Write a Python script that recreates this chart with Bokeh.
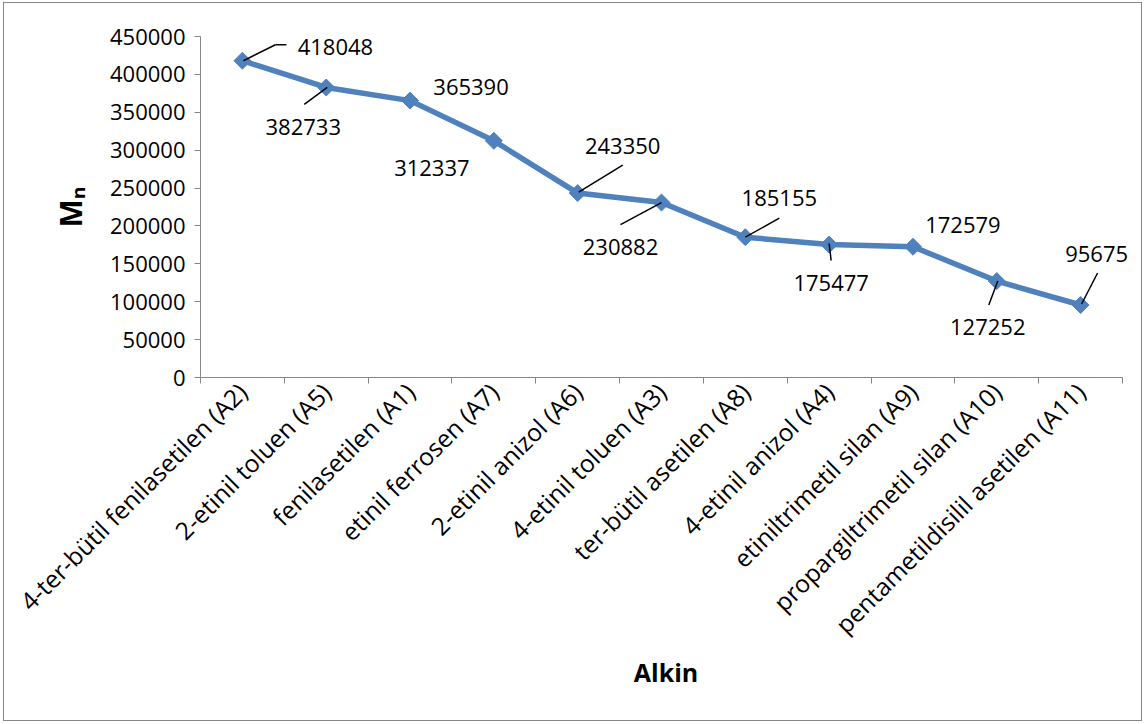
import math
from bokeh.plotting import figure
from bokeh.models import FixedTicker, Range1d, ColumnDataSource, BasicTickFormatter, LabelSet
from bokeh.core.properties import value
from bokeh.embed import file_html
from bokeh.resources import INLINE

categories = [
    "4-ter-bütil fenilasetilen (A2)",
    "2-etinil toluen (A5)",
    "fenilasetilen (A1)",
    "etinil ferrosen (A7)",
    "2-etinil anizol (A6)",
    "4-etinil toluen (A3)",
    "ter-bütil asetilen (A8)",
    "4-etinil anizol (A4)",
    "etiniltrimetil silan (A9)",
    "propargiltrimetil silan (A10)",
    "pentametildisilil asetilen (A11)",
]
mn_values = [418048, 382733, 365390, 312337, 243350, 230882, 185155, 175477, 172579, 127252, 95675]
y_ticks = [0, 50000, 100000, 150000, 200000, 250000, 300000, 350000, 400000, 450000]

# label placement (screen pixels, y downward) relative to each point
label_dx = [93, -23, 61, -62, 45, -41, 34, 2, 50, -9, 16]
label_dy = [-14, 40, -14, 27, -47, 44, -39, 38, -22, 46, -51]
# leader lines: (index, start dx, start dy, end dx, end dy) in pixels
leaders = [
    (0, 1, 0, 33, -16), (0, 33, -16, 44, -16),
    (1, 1, 0, -22, 17),
    (4, 1, -1, 45, -28),
    (5, 0, 0, -41, 22),
    (6, 0, 0, 34, -19),
    (7, 0, -1, 2, 16),
    (9, 1, 0, -8, 24),
    (10, 1, -1, 17, -32),
]

AXIS_W, EXTRA, FH = 922, 9, 341
YMAX = 450000
n = len(categories)
xs = list(range(n))
px_x = AXIS_W / n
px_y = FH / YMAX

p = figure(x_range=Range1d(-0.5, n - 0.5 + EXTRA / px_x), y_range=Range1d(0, YMAX),
           frame_width=AXIS_W + EXTRA, frame_height=FH,
           min_border_left=196, min_border_right=19 - EXTRA, min_border_top=33, min_border_bottom=343,
           output_backend="svg", toolbar_location=None)
p.styles = {"border": "1px solid #868686", "margin-left": "3px", "margin-top": "2px"}
p.outline_line_color = None
p.xgrid.visible = False
p.ygrid.visible = False
p.background_fill_color = "white"

FONT = "Open Sans"
AX = "#868686"

xa = p.xaxis[0]
xa.bounds = (-0.5, n - 0.5)
xa.ticker = FixedTicker(ticks=xs, minor_ticks=[i - 0.5 for i in range(n + 1)])
xa.major_label_overrides = {i: c for i, c in enumerate(categories)}
xa.major_label_orientation = math.pi / 4
xa.major_label_text_font = FONT
xa.major_label_text_font_size = "24.5px"
xa.major_label_text_color = "black"
xa.major_tick_in = 0
xa.major_tick_out = 0
xa.minor_tick_in = 0
xa.minor_tick_out = 6
xa.minor_tick_line_color = AX
xa.axis_line_color = AX
xa.major_label_standoff = 4
xa.axis_label = "Alkin"
xa.axis_label_text_font = FONT
xa.axis_label_text_font_style = "bold"
xa.axis_label_text_font_size = "25px"
xa.axis_label_text_color = "black"
xa.axis_label_standoff = 0

ya = p.yaxis[0]
ya.ticker = FixedTicker(ticks=y_ticks, minor_ticks=[])
ya.formatter = BasicTickFormatter(use_scientific=False)
ya.major_label_text_font = FONT
ya.major_label_text_font_size = "22px"
ya.major_label_text_color = "black"
ya.major_tick_in = 0
ya.major_tick_out = 6
ya.major_tick_line_color = AX
ya.axis_line_color = AX
ya.major_label_standoff = 9
ya.axis_label = "Mₙ"
ya.axis_label_text_font = FONT
ya.axis_label_text_font_style = "bold"
ya.axis_label_text_font_size = "30px"
ya.axis_label_text_color = "black"
ya.axis_label_standoff = 16

src = ColumnDataSource(dict(x=xs, y=mn_values, t=[str(v) for v in mn_values],
                            dx=label_dx, dy=[-d for d in label_dy]))
p.line("x", "y", source=src, line_width=5.5, line_color="#4F81BD")
p.scatter("x", "y", source=src, marker="square", size=12, angle=math.pi / 4,
          fill_color="#4F81BD", line_color="#4F81BD")

# leader lines converted from pixel offsets through the axis scales
x0, y0, x1, y1 = [], [], [], []
for i, ax_, ay_, bx_, by_ in leaders:
    x0.append(xs[i] + ax_ / px_x)
    y0.append(mn_values[i] - ay_ / px_y)
    x1.append(xs[i] + bx_ / px_x)
    y1.append(mn_values[i] - by_ / px_y)
p.segment(x0, y0, x1, y1, line_color="black", line_width=1.5)

labels = LabelSet(x="x", y="y", text="t", source=src, x_offset="dx", y_offset="dy",
                  text_align="center", text_baseline="middle",
                  text_font=value(FONT), text_font_size="22px", text_color="black")
p.add_layout(labels)

open("out.html", "w").write(file_html(p, INLINE))
